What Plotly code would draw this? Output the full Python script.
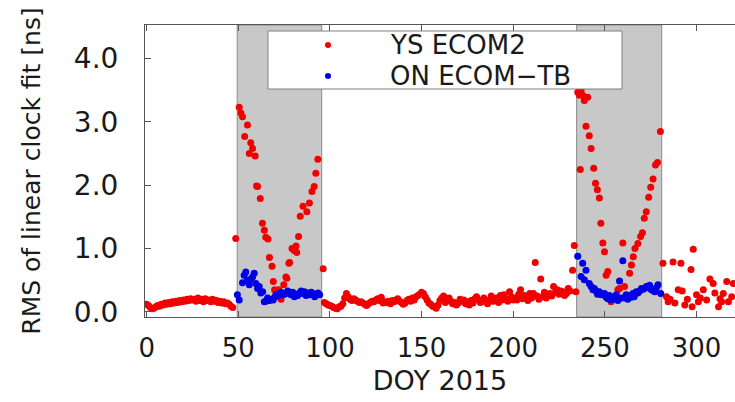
import plotly.graph_objects as go

# ---- YS ECOM2: daily RMS of the linear clock fit [ns] ----
# quiet period before the first eclipse season (DOY 0-47)
rms_ys_early = [0.12, 0.10, 0.07, 0.05, 0.06, 0.08, 0.10, 0.09, 0.12, 0.11,
                0.14, 0.12, 0.15, 0.13, 0.16, 0.14, 0.17, 0.15, 0.18, 0.16,
                0.19, 0.17, 0.20, 0.18, 0.21, 0.19, 0.20, 0.17, 0.22, 0.18,
                0.20, 0.16, 0.21, 0.18, 0.19, 0.16, 0.20, 0.17, 0.18, 0.15,
                0.17, 0.14, 0.16, 0.13, 0.14, 0.12, 0.09, 0.07]
doy_ys_early = list(range(0, 48))

# first eclipse season
doy_ys_ecl1 = [48.6, 50.5, 51.4, 52.3, 53.5, 55.0, 56.0, 56.8, 57.8, 59.2,
               60.0, 60.5, 62.0, 63.2, 64.2, 65.0, 66.2, 67.0, 68.4, 69.1,
               69.8, 72.0, 73.3, 74.8, 76.0, 76.5, 77.6, 78.0, 79.3, 80.5,
               81.5, 81.9, 82.9, 83.8, 85.3, 87.4, 88.8, 90.2, 91.4, 92.3,
               93.4, 96.3]
rms_ys_ecl1 = [1.16, 3.23, 3.14, 3.08, 2.77, 2.95, 2.50, 2.67, 2.58, 2.46,
               1.99, 1.98, 1.79, 1.40, 1.29, 1.18, 1.15, 0.86, 0.72, 0.48,
               0.35, 0.35, 0.20, 0.43, 0.55, 0.53, 0.77, 0.78, 1.00, 0.97,
               1.04, 0.94, 1.19, 1.51, 1.67, 1.58, 1.72, 1.90, 1.98, 2.19,
               2.41, 0.68]

# between the eclipse seasons (DOY 97-231)
rms_ys_mid = [0.15, 0.13, 0.11, 0.10, 0.09, 0.07, 0.06, 0.05, 0.08, 0.09,
              0.13, 0.22, 0.29, 0.24, 0.20, 0.18, 0.21, 0.19, 0.17, 0.15,
              0.16, 0.14, 0.12, 0.10, 0.13, 0.15, 0.17, 0.16, 0.19, 0.21,
              0.18, 0.23, 0.14, 0.16, 0.15, 0.17, 0.13, 0.18, 0.16, 0.19,
              0.21, 0.17, 0.15, 0.12, 0.14, 0.18, 0.20, 0.17, 0.22, 0.19,
              0.24, 0.26, 0.28, 0.31, 0.29, 0.24, 0.19, 0.14, 0.12, 0.09,
              0.08, 0.06, 0.11, 0.18, 0.22, 0.25, 0.15, 0.19, 0.22, 0.17,
              0.13, 0.15, 0.11, 0.14, 0.20, 0.17, 0.19, 0.13, 0.16, 0.11,
              0.18, 0.14, 0.21, 0.24, 0.19, 0.15, 0.16, 0.22, 0.18, 0.13,
              0.19, 0.25, 0.17, 0.21, 0.22, 0.15, 0.26, 0.19, 0.27, 0.21,
              0.17, 0.32, 0.24, 0.19, 0.22, 0.19, 0.28, 0.35, 0.21, 0.26,
              0.24, 0.18, 0.29, 0.22, 0.29, 0.78, 0.25, 0.20, 0.52, 0.24,
              0.31, 0.22, 0.27, 0.29, 0.25, 0.40, 0.31, 0.35, 0.28, 0.33,
              0.32, 0.26, 0.29, 0.37, 0.33]
doy_ys_mid = list(range(97, 232))

# second eclipse season
doy_ys_ecl2 = [232.4, 233.3, 234.2, 235.2, 236.1, 237.0, 237.9, 238.8, 240.6, 236.6,
               239.7, 241.5, 242.5, 243.9, 244.9, 245.9, 247.0, 247.8, 248.9, 249.8,
               250.7, 251.6, 253.4, 257.1, 258.0, 259.8, 260.7, 263.5, 264.5, 265.5,
               266.4, 268.0, 269.5, 270.5, 271.5, 272.6, 273.9, 275.0, 276.3, 277.6,
               278.7, 280.3]
rms_ys_ecl2 = [0.66, 1.05, 0.32, 3.47, 3.42, 3.50, 3.42, 3.34, 3.39, 2.25,
               2.93, 2.78, 2.58, 2.27, 2.03, 1.93, 1.80, 1.40, 1.09, 0.95,
               0.58, 0.64, 0.16, 0.35, 0.37, 1.09, 0.40, 0.61, 0.74, 0.87,
               1.00, 1.08, 1.19, 1.25, 1.48, 1.58, 1.81, 1.97, 2.10, 2.32,
               2.36, 2.85]

# after the second eclipse season
doy_ys_late = [281.7, 283.6, 284.5, 285.6, 287.2, 288.2, 290.0, 291.5, 292.2, 293.6,
               295.0, 297.0, 297.6, 298.2, 300.0, 301.0, 302.1, 303.7, 305.5, 307.3,
               309.1, 310.0, 312.0, 312.8, 313.7, 314.6, 316.5, 317.4, 319.2, 320.1]
rms_ys_late = [0.77, 0.24, 0.16, 0.20, 0.79, 0.14, 0.35, 0.77, 0.33, 0.11,
               0.20, 0.67, 0.08, 0.99, 0.27, 0.16, 0.22, 0.35, 0.19, 0.52,
               0.45, 0.30, 0.08, 0.21, 0.16, 0.29, 0.48, 0.16, 0.24, 0.45]

doy_ys = doy_ys_early + doy_ys_ecl1 + doy_ys_mid + doy_ys_ecl2 + doy_ys_late
rms_ys = rms_ys_early + rms_ys_ecl1 + rms_ys_mid + rms_ys_ecl2 + rms_ys_late

# ---- ON ECOM-TB: only processed during the eclipse seasons ----
doy_on_ecl1 = [49.5, 50.5, 52.3, 53.2, 54.1, 55.0, 56.0, 56.9, 57.8, 58.7,
               59.6, 60.5, 61.4, 62.3, 63.3, 64.2, 65.1, 66.0, 67.0, 68.0,
               69.0, 70.0, 70.6, 71.5, 72.4, 73.3, 74.2, 75.1, 76.0, 77.0,
               77.9, 78.8, 79.7, 80.6, 81.5, 82.4, 83.4, 84.3, 85.2, 86.1,
               87.0, 88.0, 88.9, 89.8, 90.7, 91.7, 92.6, 93.5, 94.4]
rms_on_ecl1 = [0.27, 0.19, 0.46, 0.58, 0.63, 0.50, 0.43, 0.52, 0.55, 0.61,
               0.45, 0.37, 0.40, 0.30, 0.32, 0.16, 0.17, 0.22, 0.18, 0.20,
               0.19, 0.24, 0.27, 0.25, 0.29, 0.31, 0.27, 0.28, 0.29, 0.33,
               0.30, 0.27, 0.31, 0.24, 0.28, 0.26, 0.30, 0.33, 0.29, 0.32,
               0.26, 0.30, 0.27, 0.31, 0.29, 0.24, 0.28, 0.30, 0.27]
doy_on_ecl2 = [235.2, 237.0, 237.9, 238.8, 239.7, 241.5, 242.5, 243.5, 244.3, 245.2,
               246.0, 247.0, 248.0, 249.8, 250.7, 251.6, 252.5, 253.4, 254.4, 255.3,
               256.2, 257.1, 258.0, 258.9, 259.8, 260.7, 261.6, 262.5, 263.5, 264.4,
               265.3, 266.0, 267.1, 268.0, 269.0, 269.9, 271.0, 272.6, 273.5, 274.4,
               275.4, 276.3, 277.2, 278.1, 279.0, 280.5]
rms_on_ecl2 = [0.88, 0.56, 0.77, 0.51, 0.66, 0.45, 0.40, 0.35, 0.37, 0.33,
               0.28, 0.32, 0.27, 0.29, 0.23, 0.21, 0.26, 0.19, 0.20, 0.24,
               0.27, 0.18, 0.49, 0.22, 0.81, 0.22, 0.27, 0.20, 0.26, 0.23,
               0.29, 0.24, 0.32, 0.30, 0.33, 0.37, 0.36, 0.40, 0.38, 0.42,
               0.35, 0.34, 0.32, 0.38, 0.43, 0.29]
doy_on = doy_on_ecl1 + doy_on_ecl2
rms_on = rms_on_ecl1 + rms_on_ecl2

# eclipse seasons (DOY start, end) shaded in gray
eclipse_seasons = [(49.4, 95.5), (234.6, 281.0)]

x_ticks = [0, 50, 100, 150, 200, 250, 300]
y_ticks = [0, 1, 2, 3, 4]
y_tick_text = ["0.0", "1.0", "2.0", "3.0", "4.0"]

series_names = ["YS ECOM2", "ON ECOM\u2212TB"]
series_colors = ["#f20000", "#0000e6"]

FONT = "DejaVu Sans"
FRAME = "#555555"
TEXT = "#1a1a1a"

# plot area in pixels (for placing the key box)
W, H = 735, 402
ML, MR, MT, MB = 145, 0, 25, 85
PW, PH = W - ML - MR, H - MT - MB


def px_x(px):
    return (px - ML) / PW


def px_y(py):
    return (H - MB - py) / PH


fig = go.Figure()
fig.add_trace(go.Scatter(
    x=doy_ys, y=rms_ys, mode="markers", name=series_names[0],
    marker=dict(color=series_colors[0], size=7, line=dict(width=0)),
))
fig.add_trace(go.Scatter(
    x=doy_on, y=rms_on, mode="markers", name=series_names[1],
    marker=dict(color=series_colors[1], size=7, line=dict(width=0)),
))

for start, end in eclipse_seasons:
    fig.add_shape(type="rect", xref="x", yref="paper", x0=start, x1=end, y0=0, y1=1,
                  fillcolor="#c8c8c8", line=dict(color="#8a8a8a", width=1), layer="below")

# key box inside the plot, gnuplot style: sample dot left, label to its right
fig.add_shape(type="rect", xref="paper", yref="paper",
              x0=px_x(268), x1=px_x(622), y0=px_y(89), y1=px_y(31),
              fillcolor="white", line=dict(color="#7f7f7f", width=1), layer="above")
for i, (name, color) in enumerate(zip(series_names, series_colors)):
    row_y = px_y(45 + 31 * i)
    fig.add_shape(type="circle", xref="paper", yref="paper",
                  xsizemode="pixel", ysizemode="pixel",
                  xanchor=px_x(328), yanchor=row_y,
                  x0=-3, x1=3, y0=-3, y1=3,
                  fillcolor=color, line=dict(width=0), layer="above")
    fig.add_annotation(xref="paper", yref="paper", x=px_x(389), y=row_y,
                       xanchor="left", yanchor="middle", showarrow=False,
                       borderpad=0,
                       text=name, font=dict(family=FONT, size=26, color=TEXT))

fig.update_layout(
    width=W, height=H,
    margin=dict(l=ML, r=MR, t=MT, b=MB),
    paper_bgcolor="white", plot_bgcolor="white",
    font=dict(family=FONT, color=TEXT),
    showlegend=False,
    xaxis=dict(
        range=[-0.9, 321], tickvals=x_ticks,
        ticks="inside", ticklen=6, tickcolor=FRAME,
        showline=True, linecolor=FRAME, linewidth=1, mirror="allticks",
        showgrid=False, zeroline=False,
        tickfont=dict(family=FONT, size=26, color=TEXT),
        ticklabelstandoff=8,
        title=dict(text="DOY 2015", font=dict(family=FONT, size=27, color=TEXT), standoff=8),
    ),
    yaxis=dict(
        range=[-0.08, 4.53], tickvals=y_ticks, ticktext=y_tick_text,
        ticks="inside", ticklen=6, tickcolor=FRAME,
        showline=True, linecolor=FRAME, linewidth=1, mirror=False,
        showgrid=False, zeroline=False,
        tickfont=dict(family=FONT, size=28, color=TEXT),
        ticklabelstandoff=20,
        title=dict(text="RMS of linear clock fit [ns]", font=dict(family=FONT, size=25, color=TEXT), standoff=26),
    ),
)

fig.write_html("out.html")
